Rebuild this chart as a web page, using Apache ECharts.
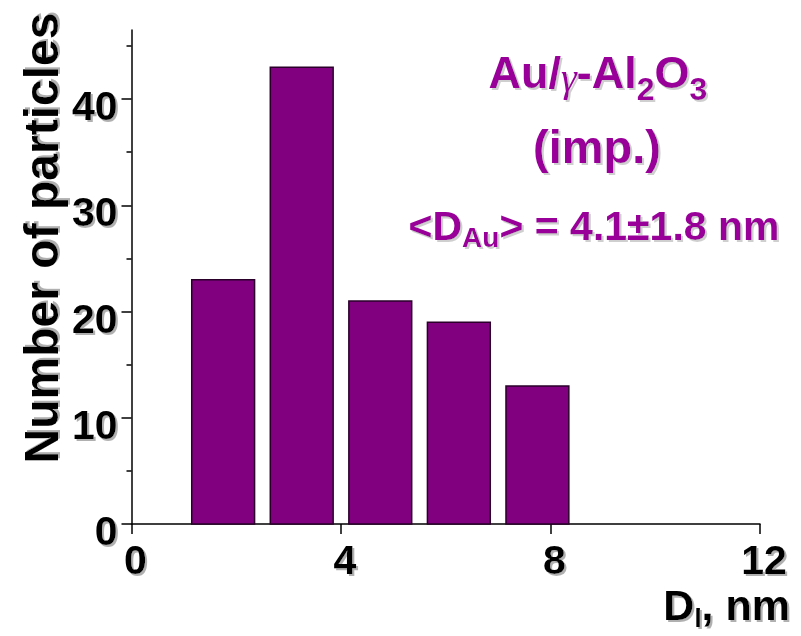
<!DOCTYPE html>
<html>
<head>
<meta charset="utf-8">
<script src="https://cdn.jsdelivr.net/npm/echarts@6/dist/echarts.min.js"></script>
<style>
  html, body { margin: 0; padding: 0; background: #fff; }
  #chart { width: 801px; height: 636px; }
</style>
</head>
<body>
<div id="chart"></div>
<script>
// ---- data ----
const binStart = [1.15, 2.65, 4.15, 5.65, 7.15];
const binEnd   = [2.35, 3.85, 5.35, 6.85, 8.35];
const counts   = [23, 43, 21, 19, 13];
const xTicks = [0, 4, 8, 12];
const yTicks = [0, 10, 20, 30, 40];
const xTitle = ['D', 'l', ', nm'];
const yTitle = 'Number of particles';
const noteLine1 = ['Au/', 'γ', '-Al', '2', 'O', '3'];
const noteLine2 = '(imp.)';
const noteLine3 = ['<D', 'Au', '> = 4.1±1.8 nm'];

// ---- styles ----
const FONT = '"Liberation Sans", Arial, Helvetica, sans-serif';
const PURPLE = '#990099';
const BAR = '#800080';
const shadow = { textShadowColor: '#b0b0b0', textShadowOffsetX: 2, textShadowOffsetY: 2, textShadowBlur: 1 };
const noteShadow = { textShadowColor: '#cfcfcf', textShadowOffsetX: 2, textShadowOffsetY: 2, textShadowBlur: 1 };

const barData = binStart.map((s, i) => [s, binEnd[i], counts[i]]);

const chart = echarts.init(document.getElementById('chart'), null, { renderer: 'svg' });

chart.setOption({
  animation: false,
  backgroundColor: '#fff',
  grid: { left: 131.5, right: 41, top: 30, bottom: 112, containLabel: false },
  xAxis: {
    type: 'value', min: xTicks[0], max: xTicks[xTicks.length - 1], interval: 4,
    axisLine: { lineStyle: { color: '#000', width: 1.5 } },
    axisTick: { show: true, inside: false, length: 10, lineStyle: { color: '#000', width: 1.5 } },
    axisLabel: {
      customValues: xTicks,
      margin: 15, color: '#000', fontSize: 41, fontWeight: 'bold', fontFamily: FONT,
      padding: [0, 0, 0, 8], ...shadow
    },
    splitLine: { show: false }
  },
  yAxis: {
    type: 'value', min: 0, max: 46.5, interval: 10,
    axisLine: { show: true, lineStyle: { color: '#000', width: 1.5 } },
    axisTick: { show: true, inside: false, length: 10, customValues: yTicks, lineStyle: { color: '#000', width: 1.5 } },
    minorTick: { show: true, splitNumber: 2, length: 5, lineStyle: { color: '#000', width: 1.5 } },
    axisLabel: {
      customValues: yTicks,
      margin: 14, color: '#000', fontSize: 41, fontWeight: 'bold', fontFamily: FONT,
      verticalAlign: 'top', lineHeight: 14, ...shadow
    },
    splitLine: { show: false }
  },
  series: [{
    type: 'custom',
    data: barData,
    encode: { x: [0, 1], y: 2 },
    renderItem: function (params, api) {
      const p0 = api.coord([api.value(0), 0]);
      const p1 = api.coord([api.value(1), api.value(2)]);
      return {
        type: 'rect',
        shape: { x: p0[0], y: p1[1], width: p1[0] - p0[0], height: p0[1] - p1[1] },
        style: { fill: BAR, stroke: '#2a002a', lineWidth: 1.5 }
      };
    }
  }],
  graphic: [
    {
      type: 'text', x: 41, y: 238, rotation: Math.PI / 2,
      style: {
        text: yTitle, fill: '#000', fontSize: 48, fontWeight: 'bold', fontFamily: FONT,
        align: 'center', verticalAlign: 'middle', ...shadow
      }
    },
    {
      type: 'text', x: 790, y: 605,
      style: {
        text: '{m|' + xTitle[0] + '}{s|' + xTitle[1] + '}{m|' + xTitle[2] + '}',
        align: 'right', verticalAlign: 'middle',
        rich: {
          m: { fontSize: 43, fontWeight: 'bold', fontFamily: FONT, fill: '#000', ...shadow },
          s: { fontSize: 26, fontWeight: 'bold', fontFamily: FONT, fill: '#000', padding: [26, 0, 0, 0], ...shadow }
        }
      }
    },
    {
      type: 'text', x: 598, y: 72,
      style: {
        text: '{m|' + noteLine1[0] + '}{g|' + noteLine1[1] + '}{m|' + noteLine1[2] + '}{s|' + noteLine1[3] + '}{m|' + noteLine1[4] + '}{s|' + noteLine1[5] + '}',
        align: 'center', verticalAlign: 'middle',
        rich: {
          m: { fontSize: 45, fontWeight: 'bold', fontFamily: FONT, fill: PURPLE, ...noteShadow },
          g: { fontSize: 40, fontWeight: 'normal', fontStyle: 'italic', fontFamily: '"Liberation Serif", "DejaVu Serif", serif', fill: PURPLE, padding: [10, 0, 0, 0], ...noteShadow },
          s: { fontSize: 32, fontWeight: 'bold', fontFamily: FONT, fill: PURPLE, padding: [34, 0, 0, 0], ...noteShadow }
        }
      }
    },
    {
      type: 'text', x: 597, y: 146,
      style: {
        text: noteLine2, fill: PURPLE, fontSize: 47, fontWeight: 'bold', fontFamily: FONT,
        align: 'center', verticalAlign: 'middle', ...noteShadow
      }
    },
    {
      type: 'text', x: 594, y: 226,
      style: {
        text: '{m|' + noteLine3[0] + '}{s|' + noteLine3[1] + '}{m|' + noteLine3[2] + '}',
        align: 'center', verticalAlign: 'middle',
        rich: {
          m: { fontSize: 41, fontWeight: 'bold', fontFamily: FONT, fill: PURPLE, ...noteShadow },
          s: { fontSize: 28, fontWeight: 'bold', fontFamily: FONT, fill: PURPLE, padding: [22, 0, 0, 0], ...noteShadow }
        }
      }
    }
  ]
});
</script>
</body>
</html>
